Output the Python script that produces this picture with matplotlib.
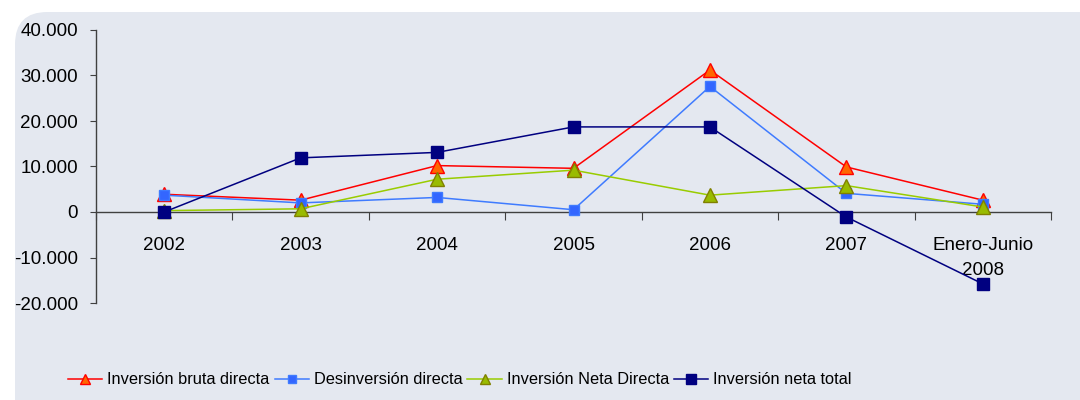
import numpy as np
import matplotlib
matplotlib.use('Agg')
import matplotlib.pyplot as plt
from matplotlib.patches import FancyBboxPatch
from matplotlib.ticker import FuncFormatter, FixedLocator

plt.rcParams['font.family'] = ['Liberation Sans', 'DejaVu Sans']

# datos (millones)
categorias = ['2002', '2003', '2004', '2005', '2006', '2007', 'Enero-Junio\n2008']
bruta = [3900, 2600, 10200, 9600, 31200, 9900, 2600]
desinversion = [3700, 2000, 3200, 500, 27600, 4100, 1700]
neta_directa = [300, 700, 7200, 9200, 3700, 5800, 1100]
neta_total = [0, 11900, 13100, 18700, 18700, -1100, -15800]

fig = plt.figure(figsize=(10.8, 4), dpi=100)

# panel de fondo con esquina redondeada
panel = FancyBboxPatch((15/1080, -0.2), 1.2, 1.2 - 12/400,
                       boxstyle='round,pad=0,rounding_size=0.03',
                       transform=fig.transFigure, facecolor='#E4E8F0',
                       edgecolor='none', zorder=-10, mutation_aspect=2.7)
fig.add_artist(panel)

ax = fig.add_axes([96/1080, 1 - 303/400, (1051 - 96)/1080, (303 - 30)/400])
ax.patch.set_alpha(0)
ax.set_zorder(1)

x = np.arange(len(categorias))
ax.plot(x, bruta, color='#FF0000', lw=1.1, marker='^', ms=9.5,
        mfc='#FF6600', mec='#FF0000', label='Inversión bruta directa', zorder=3)
ax.plot(x, desinversion, color='#3F7BFF', lw=1.1, marker='s', ms=7.5,
        mfc='#3366FF', mec='#3F7BFF', label='Desinversión directa', zorder=3)
ax.plot(x, neta_directa, color='#99CC00', lw=1.1, marker='^', ms=9.5,
        mfc='#99BB00', mec='#808000', label='Inversión Neta Directa', zorder=3)
ax.plot(x, neta_total, color='#000080', lw=1.1, marker='s', ms=8.5,
        mfc='#000080', mec='#000080', label='Inversión neta total', zorder=4)

ax.set_xlim(-0.5, len(categorias) - 0.5)
ax.set_ylim(-20000, 40000)
ax.set_yticks(np.arange(-20000, 40001, 10000))
ax.yaxis.set_major_formatter(FuncFormatter(lambda v, p: f'{int(v):,}'.replace(',', '.')))

ax.spines['top'].set_visible(False)
ax.spines['right'].set_visible(False)
ax.spines['bottom'].set_position(('data', 0))
for s in ['left', 'bottom']:
    ax.spines[s].set_color('#404040')
    ax.spines[s].set_linewidth(1.0)

ax.xaxis.set_major_locator(FixedLocator(np.arange(-0.5, len(categorias), 1)))
ax.xaxis.set_major_formatter(FuncFormatter(lambda v, p: ''))
ax.xaxis.set_minor_locator(FixedLocator(x))
ax.set_xticklabels(categorias, minor=True)
ax.tick_params(axis='x', which='major', direction='out', length=6, color='#404040')
ax.tick_params(axis='x', which='minor', length=0, pad=18, labelsize=13.5)
ax.tick_params(axis='y', direction='out', length=4, color='#404040', pad=9, labelsize=13.5)
for t in ax.xaxis.get_minorticklabels():
    t.set_linespacing(1.6)

ax.legend(loc='center left', bbox_to_anchor=(68/1080, 1 - 380/400),
          bbox_transform=fig.transFigure, ncol=4, frameon=False, fontsize=11.8,
          handlelength=2.1, handletextpad=0.3, columnspacing=0.3, markerscale=0.8,
          borderaxespad=0, borderpad=0)

fig.savefig('out.png', dpi=100)
